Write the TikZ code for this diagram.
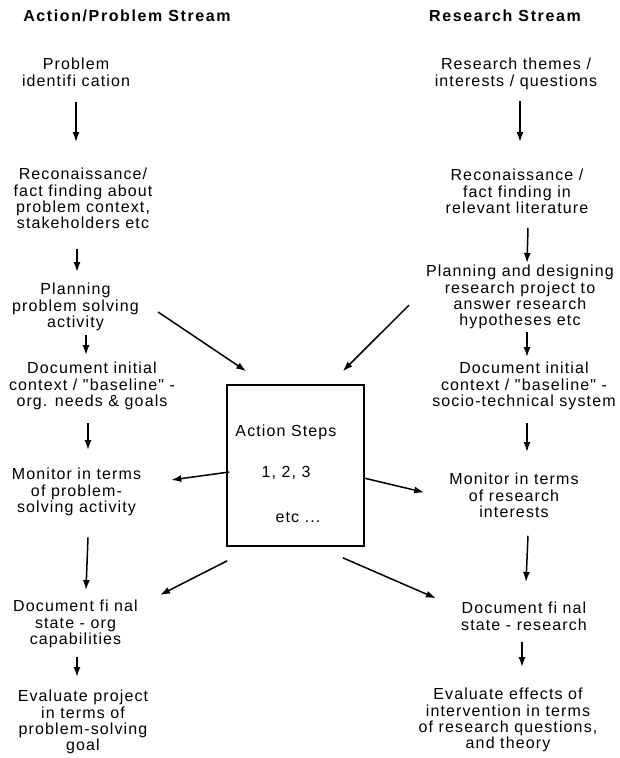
\documentclass[tikz,border=0pt]{standalone}
\usepackage{fontspec}
\setmainfont{Liberation Sans}
\newfontfamily\streamfont{Liberation Sans}[LetterSpace=7]
\newfontfamily\headfont{Liberation Sans}[LetterSpace=10]
\usepackage{tikz}
\usetikzlibrary{arrows.meta}

\begin{document}
\begin{tikzpicture}[
    x=1pt,y=-1pt,
    stage/.style={font=\streamfont\fontsize{16}{16.3}\selectfont,align=center,inner sep=0pt,anchor=north},
    head/.style={font=\headfont\bfseries\fontsize{16}{18}\selectfont,inner sep=0pt,anchor=north},
    stepbox/.style={draw,line width=1.6pt,minimum width=137pt,minimum height=161pt,inner sep=0pt},
    arrow/.style={-{Latex[length=10pt,width=7pt]},line width=1.5pt}
  ]
    \useasboundingbox (0,0) rectangle (619,758);

    \node[head] (lhead) at (127,10) {Action/Problem Stream};
    \node[head] (rhead) at (505,10) {Research Stream};

    \node[stage] (pi) at (76,58) {Problem\\identifi cation};
    \node[stage] (recL) at (83,168) {Reconaissance/\\fact finding about\\problem context,\\stakeholders etc};
    \node[stage] (planL) at (75.5,283) {Planning\\problem solving\\activity};
    \node[stage] (docL) at (92,362) {Document initial\\context / "baseline" -\\org. needs \& goals};
    \node[stage] (monL) at (76.5,468) {Monitor in terms\\of problem-\\solving activity};
    \node[stage] (finL) at (75.5,600) {Document fi nal\\state - org\\capabilities};
    \node[stage] (evalL) at (83,690) {Evaluate project\\in terms of\\problem-solving\\goal};

    \node[stage] (themes) at (516,58) {Research themes /\\interests / questions};
    \node[stage] (recR) at (517,169) {Reconaissance /\\fact finding in\\relevant literature};
    \node[stage] (planR) at (520,265) {Planning and designing\\research project to\\answer research\\hypotheses etc};
    \node[stage] (docR) at (524,362) {Document initial\\context / "baseline" -\\socio-technical system};
    \node[stage] (monR) at (514,473) {Monitor in terms\\of research\\interests};
    \node[stage] (finR) at (524,602) {Document fi nal\\state - research};
    \node[stage] (evalR) at (508,688) {Evaluate effects of\\intervention in terms\\of research questions,\\and theory};

    \node[stepbox] (steps) at (295.5,465.5) {};
    \node[stage] (steptext) at (286,425) {Action Steps\\[24.7pt]1, 2, 3\\[28.7pt]\hspace*{24pt}etc ...};

    \draw[arrow] ([yshift=-16pt]pi.south) -- ([xshift=-7pt,yshift=26pt]recL.north);
    \draw[arrow] ([xshift=-6pt,yshift=-19.6pt]recL.south) -- ([xshift=1.5pt,yshift=11pt]planL.north);
    \draw[arrow] ([xshift=10.5pt,yshift=-4.5pt]planL.south) -- ([xshift=-6pt,yshift=7pt]docL.north);
    \draw[arrow] ([xshift=-4pt,yshift=-13.5pt]docL.south) -- ([xshift=11.5pt,yshift=18pt]monL.north);
    \draw[arrow] ([xshift=11.5pt,yshift=-21.5pt]monL.south) -- ([xshift=10.5pt,yshift=10pt]finL.north);
    \draw[arrow] ([xshift=1.5pt,yshift=-9.5pt]finL.south) -- ([xshift=-6pt,yshift=13pt]evalL.north);

    \draw[arrow] ([xshift=4pt,yshift=-11pt]themes.south) -- ([xshift=3pt,yshift=27pt]recR.north);
    \draw[arrow] ([xshift=11pt,yshift=-14pt]recR.south) -- ([xshift=7pt,yshift=2pt]planR.north);
    \draw[arrow] ([xshift=7pt,yshift=-3pt]planR.south) -- ([xshift=3pt,yshift=5pt]docR.north);
    \draw[arrow] ([xshift=3pt,yshift=-13.5pt]docR.south) -- ([xshift=13pt,yshift=21pt]monR.north);
    \draw[arrow] ([xshift=14pt,yshift=-18pt]monR.south) -- ([xshift=2pt,yshift=20pt]finR.north);
    \draw[arrow] ([xshift=-2pt,yshift=-12pt]finR.south) -- ([xshift=14pt,yshift=21pt]evalR.north);

    \draw[arrow] ([xshift=19pt,yshift=-5pt]planL.east) -- ([xshift=20pt,yshift=13pt]steps.north west);
    \draw[arrow] ([xshift=-17pt,yshift=-8pt]planR.west) -- ([xshift=-22pt,yshift=13pt]steps.north east);
    \draw[arrow] ([xshift=3pt,yshift=-6.5pt]steps.west) -- ([xshift=30pt,yshift=12pt]monL.east);
    \draw[arrow] ([xshift=-1pt,yshift=-12.5pt]steps.east) -- ([xshift=-25pt,yshift=3pt]monR.west);
    \draw[arrow] ([xshift=1pt,yshift=-14pt]steps.south west) -- ([xshift=22pt,yshift=29pt]finL.east);
    \draw[arrow] ([xshift=-22pt,yshift=-11pt]steps.south east) -- ([xshift=-25pt,yshift=18pt]finR.west);
\end{tikzpicture}
\end{document}
